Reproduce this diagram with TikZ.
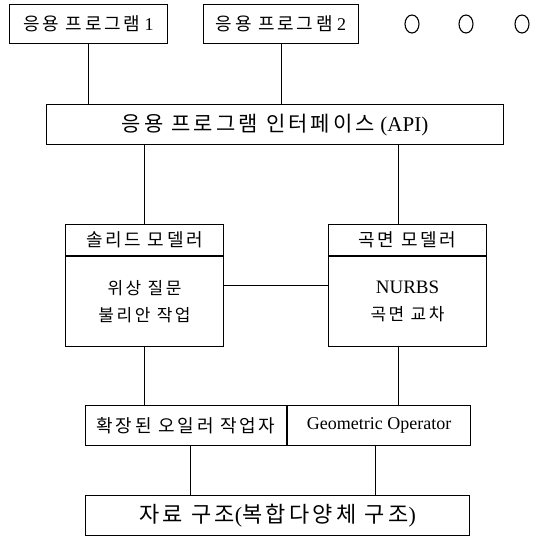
\documentclass[tikz,border=0pt]{standalone}
\usepackage{fontspec}
\setmainfont{Liberation Serif}
\newfontfamily\kr[LetterSpace=15]{Noto Sans CJK KR}
\usetikzlibrary{shapes.geometric}
\newcommand{\fsize}[2][]{\fontsize{#2}{#2}\selectfont}

\begin{document}
\begin{tikzpicture}[x=1pt,y=-1pt,line width=1.1pt,
  box/.style={draw,anchor=north west,inner sep=0pt,align=center},
  etc/.style={draw,ellipse,minimum width=14pt,minimum height=18pt,inner sep=0pt}]
\useasboundingbox (0,0) rectangle (538,536);

\node[box,minimum width=158pt,minimum height=39pt,font=\fsize{18}] (app1) at (9,4) {{\kr 응용 프로그램} 1};
\node[box,minimum width=155pt,minimum height=39pt,font=\fsize{18}] (app2) at (203,4) {{\kr 응용 프로그램} 2};
\node[etc] (etc1) at (412,24) {};
\node[etc] (etc2) at (466,24) {};
\node[etc] (etc3) at (522,24) {};

\node[box,minimum width=457pt,minimum height=40pt,font=\fsize{21}] (api) at (46,104) {{\kr 응용 프로그램 인터페이스} (API)};

\node[box,minimum width=158pt,minimum height=31pt,font=\kr\fsize{18}] (solidhead) at (65,224) {솔리드 모델러};
\node[box,minimum width=158pt,minimum height=90pt,font=\kr\fontsize{17}{27}\selectfont] (solidbody) at (solidhead.south west) {위상 질문\\불리안 작업};
\node[box,minimum width=158pt,minimum height=31pt,font=\kr\fsize{18}] (surfhead) at (328,224) {곡면 모델러};
\node[box,minimum width=158pt,minimum height=90pt,font=\kr\fontsize{17}{27}\selectfont] (surfbody) at (surfhead.south west) {{\rmfamily\fsize{19}NURBS}\\곡면 교차};

\node[box,minimum width=201pt,minimum height=40pt,font=\kr\fsize{18}] (oplft) at (85,405) {확장된 오일러 작업자};
\node[box,minimum width=183pt,minimum height=40pt,font=\fsize{18}] (oprgt) at (oplft.north east) {Geometric Operator};

\node[box,minimum width=384pt,minimum height=40pt,font=\kr\fsize{22}] (data) at (85,495) {자료 구조{\rmfamily(}복합다양체 구조{\rmfamily)}};

\draw (app1.south) -- (app1.south |- api.north);
\draw (app2.south) -- (app2.south |- api.north);
\draw (solidhead.north) -- (solidhead.north |- api.south);
\draw ([xshift=-9pt]surfhead.north) -- ([xshift=-9pt]surfhead.north |- api.south);
\draw ([yshift=16pt]solidbody.east) -- ([yshift=16pt]surfbody.west);
\draw (solidbody.south) -- (solidbody.south |- oplft.north);
\draw ([xshift=-9pt]surfbody.south) -- ([xshift=-9pt]surfbody.south |- oprgt.north);
\draw ([xshift=4pt]oplft.south) -- ([xshift=4pt]oplft.south |- data.north);
\draw ([xshift=-4pt]oprgt.south) -- ([xshift=-4pt]oprgt.south |- data.north);
\end{tikzpicture}
\end{document}
